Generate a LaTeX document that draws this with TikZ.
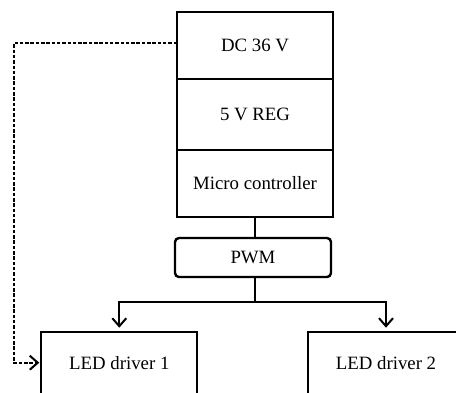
\documentclass[tikz,border=0pt]{standalone}
\usepackage{fontspec}
\setmainfont{Liberation Serif}
\usetikzlibrary{arrows.meta, positioning}

\begin{document}
\begin{tikzpicture}[x=1pt,y=-1pt,>={Straight Barb[length=8pt,width=14pt]},
	font=\fontsize{18.8}{22}\selectfont,
	blk/.style={draw,line width=2.1pt,minimum width=156pt,inner sep=0pt,outer sep=0pt},
	wire/.style={line width=1.8pt}]
		\def\ledw{156pt}
		\useasboundingbox (0,0) rectangle (456,392);
		\clip (0,0) rectangle (456,392);
		\node[blk,minimum height=67pt] (dc) at (255,45.5) {DC 36 V};
		\node[blk,minimum height=71pt,below=0pt of dc] (reg) {5 V REG};
		\node[blk,minimum height=67pt,below=0pt of reg] (mcu) {Micro controller};
		\node[blk,rounded corners=4pt,line width=2.4pt,minimum height=39pt] (pwm) at (253,257.5) {PWM};
		\node[blk,line width=2.3pt,minimum width=\ledw,minimum height=62pt,anchor=north] (led1) at (119.3,331.7) {LED driver 1};
		\node[blk,line width=2.3pt,minimum width=\ledw,minimum height=62pt,anchor=north] (led2) at (386,331.7) {LED driver 2};
		\coordinate (split) at (255,302);
		\draw[wire] (mcu.south -| split) -- (pwm.north -| split);
		\draw[wire] (pwm.south -| split) -- (split);
		\draw[wire,line width=2pt,->,shorten >=4pt] (split) -| (led1.north);
		\draw[wire,line width=2pt,->,shorten >=4pt] (split) -| (led2.north);
		\draw[line width=2pt,dash pattern=on 3.5pt off 1.8pt,->,shorten >=2pt]
			([yshift=2.5pt]dc.west) -| (14,0 |- led1.west) -- (led1.west);
	\end{tikzpicture}
\end{document}
